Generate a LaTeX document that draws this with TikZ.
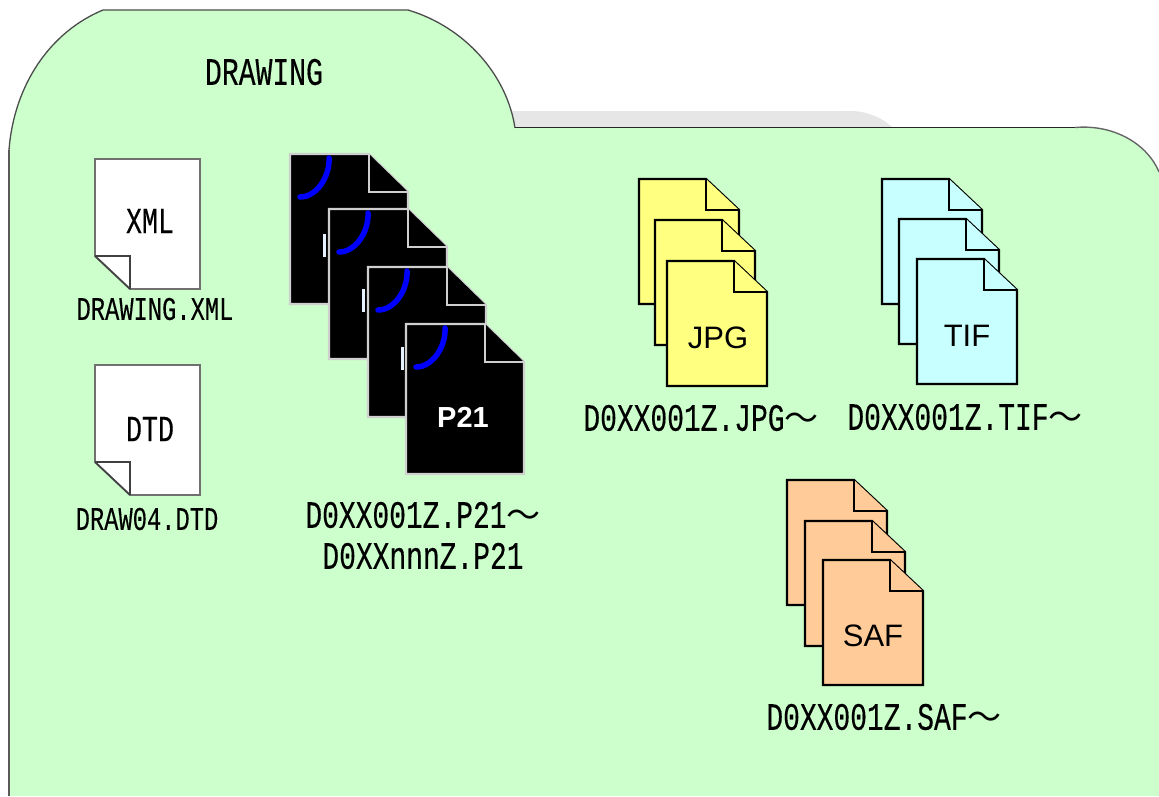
\documentclass[tikz,border=0pt]{standalone}
\usepackage{fontspec}
\setmainfont{Liberation Sans}
\newfontfamily\gothic[FakeStretch=0.72,FakeBold=0.25]{Liberation Mono}
\newfontfamily\cjk{Noto Sans CJK JP}
\definecolor{foldergreen}{HTML}{CCFFCC}
\definecolor{backtab}{HTML}{E6E6E6}
\definecolor{jpgyellow}{HTML}{FFFF80}
\definecolor{tifcyan}{HTML}{C8FFFF}
\definecolor{saforange}{HTML}{FFCC99}
\definecolor{palegrey}{HTML}{CFCFCF}
\definecolor{midgrey}{HTML}{707070}
\definecolor{barblue}{HTML}{E6F2FF}
\newcommand{\docsheet}[7]{%
  \draw[#1] ({#2},{#3}) -- ({#2+#4-#6},{#3}) -- ({#2+#4},{#3+#7}) -- ({#2+#4},{#3+#5}) -- ({#2},{#3+#5}) -- cycle;
  \draw[#1] ({#2+#4-#6},{#3}) -- ({#2+#4-#6},{#3+#7}) -- ({#2+#4},{#3+#7});
}
\newcommand{\stepsheet}[3]{\docsheet{stepfile,fill=#1}{#2}{#3}{100}{125}{33}{31}}
\newcommand{\blacksheet}[2]{%
  \docsheet{blackfile}{#1}{#2}{118}{150}{39}{38}
  \draw[bluearc] ({#1+39},{#2+4}) .. controls ({#1+40},{#2+22}) and ({#1+27},{#2+43}) .. ({#1+10},{#2+43});
}
\newcommand{\hiddenbar}[2]{\fill[barblue] ({#1+33},{#2+80}) rectangle ({#1+36},{#2+103});}
\newcommand{\whitedoc}[2]{%
  \draw[whitefile] (#1,#2) -- (200,#2) -- (200,{#2+130}) -- (130,{#2+130}) -- (95,{#2+97}) -- cycle;
  \draw[foldline] (95,{#2+97}) -- (130,{#2+97}) -- (130,{#2+130});
  \draw[foldline] (95,{#2+97}) -- (130,{#2+130});
}
\tikzset{
  stepfile/.style={draw=black,line width=2.2pt,line join=miter},
  blackfile/.style={draw=palegrey,fill=black,line width=2.4pt,line join=miter},
  whitefile/.style={draw=midgrey,fill=white,line width=1.9pt,line join=miter},
  foldline/.style={draw=black!75,line width=1.4pt},
  bluearc/.style={draw=blue,line width=5.5pt,line cap=round},
  smalllabel/.style={inner sep=0pt,font={\gothic\fontsize{33}{33}\selectfont}},
  biglabel/.style={inner sep=0pt,font={\gothic\fontsize{39}{39}\selectfont}},
  filelabel/.style={inner sep=0pt,align=center,font={\gothic\fontsize{38.8}{38.8}\selectfont}},
  icontext/.style={inner sep=0pt,font={\fontsize{31}{31}\selectfont}},
}
\begin{document}
\begin{tikzpicture}[x=1pt,y=-1pt]
\useasboundingbox (0,0) rectangle (1159,796);
\fill[white] (0,0) rectangle (1159,796);
% back tab
\fill[backtab] (505,111) -- (845,111) .. controls (865,110) and (882,117) .. (893,128) -- (505,128) -- cycle;
% folder
\fill[foldergreen] (9,796) -- (9,150) .. controls (14,85) and (50,32) .. (103,10) -- (408,10)
  .. controls (465,27) and (507,75) .. (515,128) -- (1075,128)
  .. controls (1115,124) and (1148,145) .. (1159,172) -- (1159,796) -- cycle;
\draw[black!70,line width=1.3pt] (9,150) .. controls (14,85) and (50,32) .. (103,10) -- (408,10)
  .. controls (465,27) and (507,75) .. (515,128);
\draw[black!85,line width=1.8pt] (515,127.5) -- (1075,127.5);
\draw[black!60,line width=1.4pt] (1075,127.5) .. controls (1115,124) and (1148,145) .. (1159,172);
\draw[midgrey!80!black,line width=2.6pt] (9,150) -- (9,796);
\node (foldertitle) [biglabel] at (264,72) {DRAWING};
% white documents
\whitedoc{95}{159}
\whitedoc{95}{365}
\node (xmltext) [inner sep=0pt,font={\gothic\fontsize{37}{37}\selectfont}] at (150,221) {XML};
\node (dtdtext) [inner sep=0pt,font={\gothic\fontsize{37}{37}\selectfont}] at (150,429) {DTD};
\node (xmlname) [smalllabel] at (155,309) {DRAWING.XML};
\node (dtdname) [smalllabel] at (147,519) {DRAW04.DTD};
% P21 stack
\blacksheet{290}{154}\hiddenbar{290}{154}
\blacksheet{329}{209}\hiddenbar{329}{209}
\blacksheet{368}{267}\hiddenbar{368}{267}
\blacksheet{406}{324}
\node (p21text) [inner sep=0pt,text=white,font={\bfseries\fontsize{29}{29}\selectfont}] at (463,417) {P21};
\node (p21first) [filelabel] at (423,515) {D0XX001Z.P21{\cjk\fontsize{34}{34}\selectfont ～}};
\node (p21last) [filelabel] at (423,556) {D0XXnnnZ.P21};
% JPG stack
\stepsheet{jpgyellow}{639}{179}
\stepsheet{jpgyellow}{655}{220}
\stepsheet{jpgyellow}{667}{261}
\node (jpgtext) [icontext] at (718,338) {JPG};
\node (jpgname) [filelabel] at (701,418) {D0XX001Z.JPG{\cjk\fontsize{34}{34}\selectfont ～}};
% TIF stack
\stepsheet{tifcyan}{882}{179}
\stepsheet{tifcyan}{899}{219}
\stepsheet{tifcyan}{917}{259}
\node (tiftext) [icontext] at (967,336) {TIF};
\node (tifname) [filelabel] at (965,417) {D0XX001Z.TIF{\cjk\fontsize{34}{34}\selectfont ～}};
% SAF stack
\stepsheet{saforange}{787}{480}
\stepsheet{saforange}{805}{521}
\stepsheet{saforange}{823}{560}
\node (saftext) [icontext] at (873,636) {SAF};
\node (safname) [filelabel] at (884,717) {D0XX001Z.SAF{\cjk\fontsize{34}{34}\selectfont ～}};
\end{tikzpicture}
\end{document}
